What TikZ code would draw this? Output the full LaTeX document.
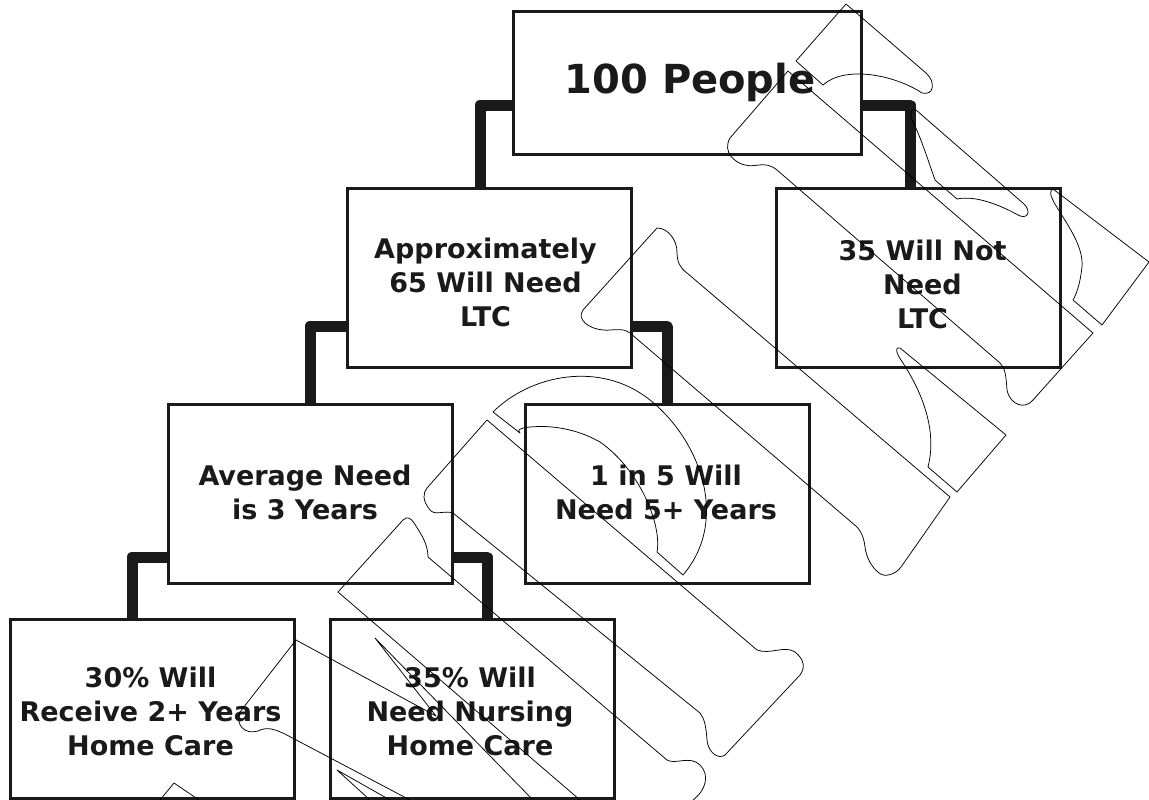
\documentclass[tikz,border=0pt]{standalone}
\usepackage{fontspec}
\setmainfont{DejaVu Sans}
\usetikzlibrary{backgrounds}
\definecolor{ink}{HTML}{1A1A1A}
\begin{document}
\begin{tikzpicture}[x=1pt,y=-1pt,
  box/.style={draw=ink,line width=3pt,fill=white,inner sep=0pt,minimum width=284pt,minimum height=179pt},
  conn/.style={draw=ink,line width=11pt,line join=round},
  lbl/.style={font=\bfseries\fontsize{27}{34}\selectfont,align=center,inner sep=0pt,text=ink},
  lblbig/.style={lbl,font=\bfseries\fontsize{40}{48}\selectfont},
  wm/.style={draw=black,line width=0.75pt,line join=round}]
\useasboundingbox (0,0) rectangle (1149,800);
% boxes
\node[box,minimum width=348pt,minimum height=142pt] (A) at (687,83) {};
\node[box] (B) at (489,277.5) {};
\node[box] (C) at (918.5,277.5) {};
\node[box] (D) at (310,493.5) {};
\node[box] (E) at (667,493.5) {};
\node[box] (F) at (152.5,708.5) {};
\node[box] (G) at (472,708.5) {};
% texts
\node[lblbig] (At) at (690,82) {100 People};
\node[lbl] (Bt) at (485.5,282) {Approximately\\65 Will Need\\LTC};
\node[lbl] (Ct) at (922.5,284.5) {35 Will Not\\Need\\LTC};
\node[lbl] (Dt) at (305,492) {Average Need\\is 3 Years};
\node[lbl] (Et) at (666,492) {1 in 5 Will\\Need 5+ Years};
\node[lbl] (Ft) at (150.5,711) {30\% Will\\Receive 2+ Years\\Home Care};
\node[lbl] (Gt) at (470,711) {35\% Will\\Need Nursing\\Home Care};
% connectors
\begin{scope}[on background layer]
\fill[white] (0,0) rectangle (1149,800);
\draw[conn] ([yshift=-22pt]A.west) -| ([xshift=-9pt]B.north);
\draw[conn] ([yshift=-22pt]A.east) -| ([xshift=-8.5pt]C.north);
\draw[conn] ([yshift=-48.5pt]B.west) -| (D.north);
\draw[conn] ([yshift=-49pt]B.east) -| (E.north);
\draw[conn] ([yshift=-63.5pt]D.west) -| ([xshift=-20.5pt]F.north);
\draw[conn] ([yshift=-63.5pt]D.east) -| ([xshift=15pt]G.north);
\end{scope}
% watermark outlines
\draw[wm] (846,4) -- (926,73) .. controls (936,82) and (934,96) .. (922,93)
  .. controls (895,75) and (845,65) .. (823,85) -- (796,61) -- cycle;
\draw[wm] (788,71) -- (1093,333) -- (1033,400) .. controls (1025,410) and (1010,405) .. (1007,390)
  .. controls (1006,375) and (1005,368) .. (1000,363) -- (777,170)
  .. controls (765,160) and (755,168) .. (745,165) .. controls (735,163) and (722,152) .. (730,138) -- cycle;
\draw[wm] (916,110) -- (1024,204) .. controls (1032,212) and (1027,220) .. (1018,215)
  .. controls (1000,205) and (975,195) .. (957,199) -- (935,180)
  .. controls (928,160) and (920,135) .. (912,120) .. controls (909,113) and (912,108) .. cycle;
\draw[wm] (1149,262) -- (1053,189) .. controls (1040,195) and (1085,235) .. (1082,267)
  .. controls (1080,285) and (1076,295) .. (1073,300) -- (1102,325) -- cycle;
\draw[wm] (900,348) -- (1006,435) -- (957,492) -- (928,467)
  .. controls (935,440) and (930,405) .. (903,363) .. controls (895,352) and (895,346) .. cycle;
\draw[wm] (657,228) .. controls (668,228) and (677,240) .. (677,252)
  .. controls (677,262) and (680,268) .. (687,273) -- (950,497) -- (901,567)
  .. controls (896,574) and (885,578) .. (879,573) .. controls (870,566) and (866,555) .. (865,547)
  .. controls (864,538) and (861,531) .. (857,527) -- (630,333)
  .. controls (622,327) and (612,331) .. (603,330) .. controls (590,329) and (576,320) .. (583,310) -- cycle;
\draw[wm] (493,412) .. controls (530,375) and (600,360) .. (650,400)
  .. controls (700,440) and (730,520) .. (683,575) -- (657,552)
  .. controls (662,525) and (640,470) .. (600,442) .. controls (570,425) and (540,425) .. (523,428)
  .. controls (518,430) .. (520,433) -- cycle;
\draw[wm] (487,420) -- (757,650) .. controls (770,655) and (785,645) .. (795,652)
  .. controls (805,660) and (805,668) .. (800,675) -- (725,755)
  .. controls (718,760) and (708,752) .. (707,740) .. controls (706,725) and (704,718) .. (700,713)
  -- (453,513) .. controls (445,510) and (435,516) .. (430,510)
  .. controls (422,500) and (423,493) .. (427,488) -- cycle;
\draw[wm] (580,800) -- (338,592) -- (403,520) .. controls (407,516) and (411,518) .. (414,523)
  .. controls (422,535) and (428,545) .. (428,557) -- (667,760)
  .. controls (675,765) and (690,755) .. (700,765) .. controls (710,775) and (706,790) .. (693,800);
\draw[wm] (410,800) -- (283,733) .. controls (275,730) and (268,726) .. (258,731)
  .. controls (245,735) and (235,725) .. (240,712) -- (296,640) -- (436,716) -- (375,638) -- (533,800);
\draw[wm] (370,800) -- (337,770) -- (390,800);
\draw[wm] (160,800) -- (174,783) -- (199,800);
\end{tikzpicture}
\end{document}
